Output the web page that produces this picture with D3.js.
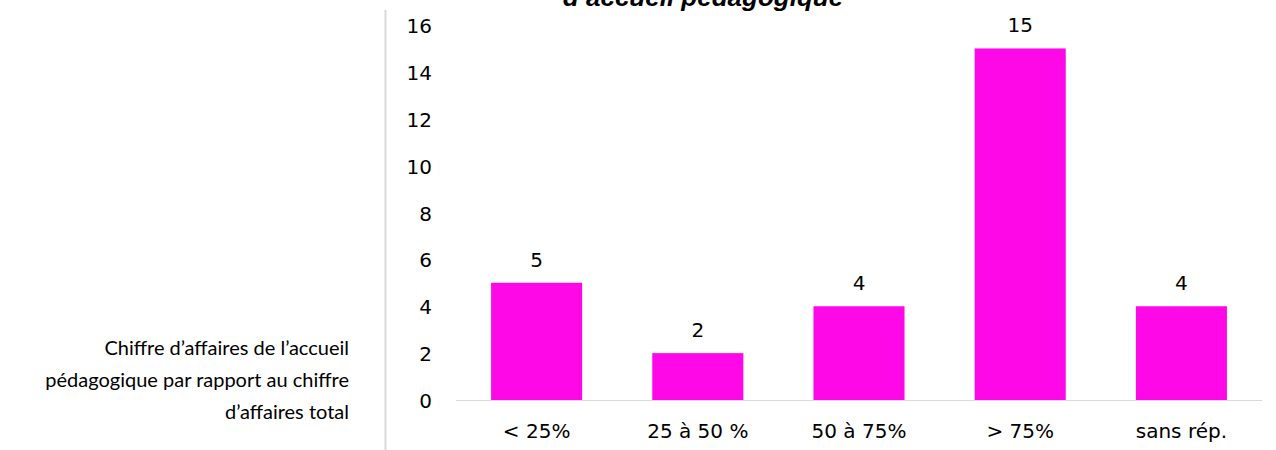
<!DOCTYPE html>
<html>
<head>
<meta charset="utf-8">
<script src="https://cdn.jsdelivr.net/npm/d3@7"></script>
<style>
  html, body { margin: 0; padding: 0; background: #fff; }
  svg { display: block; }
</style>
</head>
<body>
<svg id="chart" width="1276" height="450"></svg>
<script>
// Chart data
const categories = ["< 25%", "25 à 50 %", "50 à 75%", "> 75%", "sans rép."];
const values = [5, 2, 4, 15, 4];
const yTicks = [0, 2, 4, 6, 8, 10, 12, 14, 16];
const titleText = "d\u2019accueil pédagogique";
const sideLabel = ["Chiffre d\u2019affaires de l\u2019accueil",
                   "pédagogique par rapport au chiffre",
                   "d\u2019affaires total"];

const svg = d3.select("#chart");
const W = 1276, H = 450;

const plot = { left: 456, right: 1262, top: 25, bottom: 400 };

const x = d3.scaleBand()
  .domain(categories)
  .range([plot.left, plot.right])
  .paddingInner(0.435)
  .paddingOuter(0.2175);

const y = d3.scaleLinear()
  .domain([0, 16])
  .range([plot.bottom, plot.top]);

const numFont = "'DejaVu Sans', Verdana, sans-serif";
const numSize = 20;

// Divider between the side label and the chart
svg.append("line")
  .attr("x1", 385.5).attr("x2", 385.5)
  .attr("y1", 10).attr("y2", H)
  .attr("stroke", "#d9d9d9")
  .attr("stroke-width", 2);

// Title (last line of the chart title, running off the top edge)
svg.append("text")
  .attr("x", 703).attr("y", 6)
  .attr("text-anchor", "middle")
  .attr("font-family", "'Liberation Sans', Arial, sans-serif")
  .attr("font-weight", "bold")
  .attr("font-style", "italic")
  .attr("font-size", 26)
  .attr("fill", "#000")
  .text(titleText);

// Y axis labels (no axis line, no gridlines)
const yAxis = d3.axisLeft(y)
  .tickValues(yTicks)
  .tickSize(0)
  .tickPadding(0);

const gy = svg.append("g")
  .attr("transform", `translate(432,0)`)
  .call(yAxis);
gy.select(".domain").remove();
gy.selectAll("text")
  .attr("dy", "0.38em")
  .attr("font-family", numFont)
  .attr("font-size", numSize)
  .attr("fill", "#000");

// Bars
svg.append("g")
  .selectAll("rect")
  .data(values)
  .join("rect")
  .attr("x", (d, i) => x(categories[i]))
  .attr("width", x.bandwidth())
  .attr("y", d => y(d))
  .attr("height", d => y(0) - y(d))
  .attr("fill", "#ff08e8");

// Baseline
svg.append("line")
  .attr("x1", plot.left).attr("x2", plot.right)
  .attr("y1", y(0) + 0.5).attr("y2", y(0) + 0.5)
  .attr("stroke", "#d9d9d9")
  .attr("stroke-width", 1);

// Value labels
svg.append("g")
  .selectAll("text")
  .data(values)
  .join("text")
  .attr("x", (d, i) => x(categories[i]) + x.bandwidth() / 2)
  .attr("y", d => y(d) - 16)
  .attr("text-anchor", "middle")
  .attr("font-family", numFont)
  .attr("font-size", numSize)
  .attr("fill", "#000")
  .text(d => d);

// Category labels
const xAxis = d3.axisBottom(x).tickSize(0).tickPadding(0);
const gx = svg.append("g")
  .attr("transform", `translate(0,${plot.bottom})`)
  .call(xAxis);
gx.select(".domain").remove();
gx.selectAll("text")
  .attr("dy", null)
  .attr("y", 38)
  .attr("font-family", numFont)
  .attr("font-size", numSize)
  .attr("fill", "#000");

// Side label
svg.append("g")
  .selectAll("text")
  .data(sideLabel)
  .join("text")
  .attr("x", 349)
  .attr("y", (d, i) => 355 + i * 32)
  .attr("text-anchor", "end")
  .attr("font-family", "Lato, 'Open Sans', sans-serif")
  .attr("font-size", 20)
  .attr("fill", "#000")
  .text(d => d);
</script>
</body>
</html>
